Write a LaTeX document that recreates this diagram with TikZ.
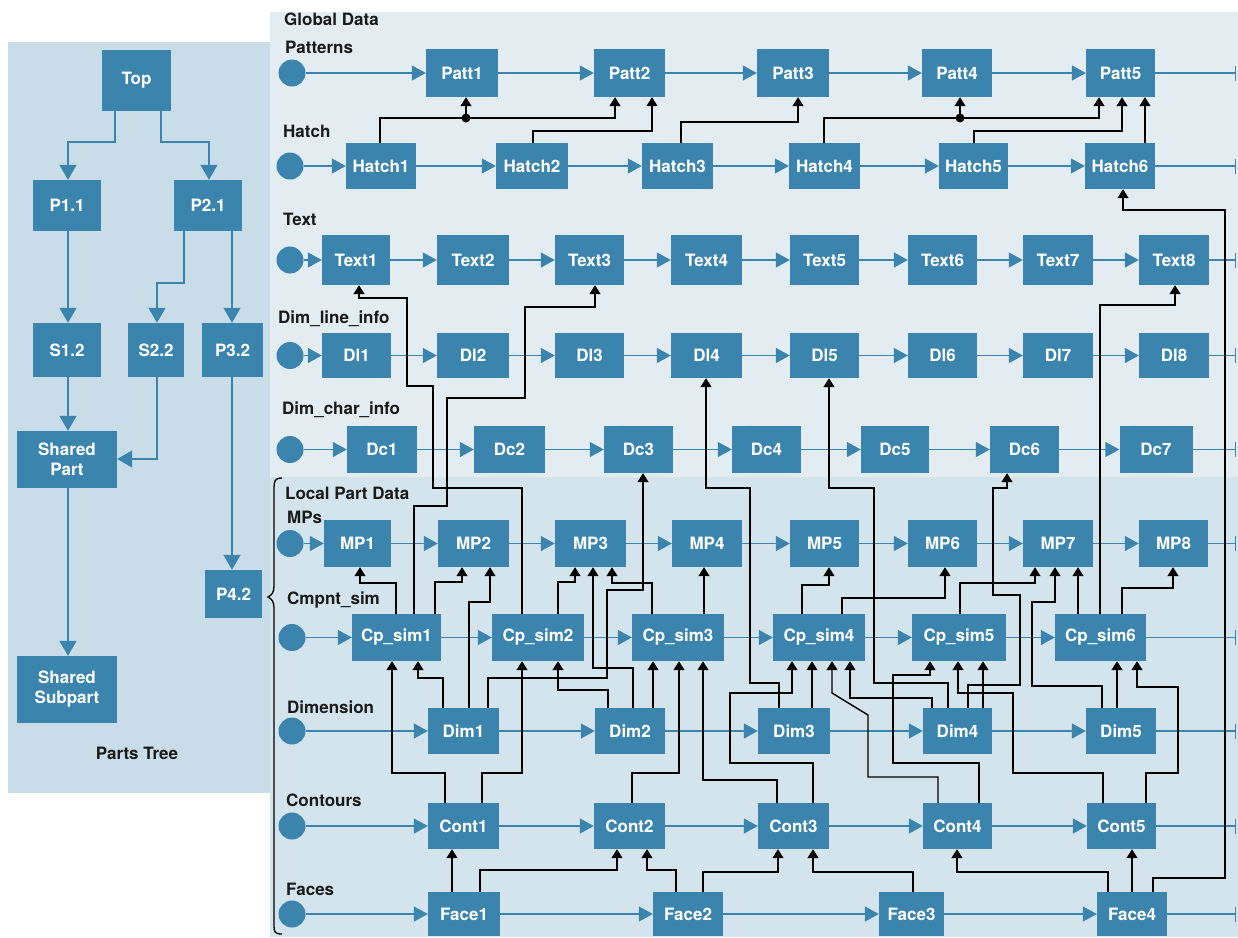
\documentclass[tikz,border=0pt]{standalone}
\usepackage{fontspec}
\setmainfont{TeX Gyre Heros}
\usetikzlibrary{arrows.meta}
\definecolor{boxblue}{HTML}{3B84AD}
\definecolor{leftbg}{HTML}{C8DDE8}
\definecolor{globbg}{HTML}{E3EDF1}
\definecolor{locbg}{HTML}{D4E4EC}
\definecolor{ink}{HTML}{1A1A1A}
\tikzset{
  box/.style={fill=boxblue, text=white, font=\bfseries\fontsize{17}{20}\selectfont, inner sep=0pt, align=center},
  lbl/.style={anchor=base west, inner sep=0pt, text=ink, font=\bfseries\fontsize{17}{20}\selectfont},
  src/.style={circle, fill=boxblue, minimum size=27pt, inner sep=0pt},
  flow/.style={draw=boxblue, line width=1.4pt, -{Triangle[width=15pt,length=14pt]}},
  tree/.style={draw=boxblue, line width=1.4pt, -{Triangle[width=17pt,length=15pt]}},
  flowend/.style={draw=boxblue, line width=1.4pt, -{Bar[width=15pt,line width=1.4pt]}},
  dep/.style={draw=black, line width=1.4pt, line join=miter, -{Triangle[width=11pt,length=9pt]}},
}
\begin{document}
\begin{tikzpicture}[x=1pt,y=-1pt]
\useasboundingbox (0,0) rectangle (1238,937);
\fill[white] (0,0) rectangle (1238,937);
\fill[leftbg] (8,42) rectangle (270,793);
\fill[globbg] (270,12) rectangle (1238,477);
\fill[locbg] (270,477) rectangle (1238,937);

% ---------------- Parts tree ----------------
\node[box,minimum width=69pt,minimum height=61pt] (top) at (136.5,80.5) {Top};
\node[box,minimum width=68pt,minimum height=51pt] (p11) at (67,205.5) {P1.1};
\node[box,minimum width=68pt,minimum height=51pt] (p21) at (208,205.5) {P2.1};
\node[box,minimum width=68pt,minimum height=54pt] (s12) at (67,350) {S1.2};
\node[box,minimum width=56pt,minimum height=54pt] (s22) at (156,350) {S2.2};
\node[box,minimum width=61pt,minimum height=54pt] (p32) at (232.5,350) {P3.2};
\node[box,minimum width=100pt,minimum height=57pt] (shp) at (67,459.5) {Shared\\Part};
\node[box,minimum width=57pt,minimum height=48pt] (p42) at (233.5,594) {P4.2};
\node[box,minimum width=100pt,minimum height=67pt] (shs) at (67,689.5) {Shared\\Subpart};
\node[anchor=base, inner sep=0pt, text=ink, font=\bfseries\fontsize{17}{20}\selectfont] (ptl) at (137,759) {Parts Tree};

\draw[tree] (115,0 |- top.south) -- (115,142) -- (68,142) -- (68,0 |- p11.north);
\draw[tree] (161,0 |- top.south) -- (161,142) -- (209,142) -- (209,0 |- p21.north);
\draw[tree] (68,0 |- p11.south) -- (68,0 |- s12.north);
\draw[tree] (184,0 |- p21.south) -- (184,283) -- (157,283) -- (157,0 |- s22.north);
\draw[tree] (232,0 |- p21.south) -- (232,0 |- p32.north);
\draw[tree] (68,0 |- s12.south) -- (68,0 |- shp.north);
\draw[tree] (157,0 |- s22.south) -- (157,459) -- (shp.east |- 0,459);
\draw[tree] (232,0 |- p32.south) -- (232,0 |- p42.north);
\draw[tree] (68,0 |- shp.south) -- (68,0 |- shs.north);

% brace
\draw[black, line width=1.3pt] (282,478) .. controls (275,478) and (274,481) .. (274,488) -- (274,586) .. controls (274,592) and (272,595) .. (268,597) .. controls (272,599) and (274,602) .. (274,608) -- (274,926) .. controls (274,932) and (275,934) .. (282,934);

% ---------------- Labels ----------------
\node[lbl] (lgd) at (284,25) {Global Data};
\node[lbl] (lpat) at (285,53) {Patterns};
\node[lbl] (lhat) at (283,137) {Hatch};
\node[lbl] (ltxt) at (283,225) {Text};
\node[lbl] (ldl) at (278,323) {Dim\_line\_info};
\node[lbl] (ldc) at (282,414) {Dim\_char\_info};
\node[lbl] (llpd) at (285,499) {Local Part Data};
\node[lbl] (lmp) at (287,523) {MPs};
\node[lbl] (lcp) at (287,604) {Cmpnt\_sim};
\node[lbl] (ldim) at (287,713) {Dimension};
\node[lbl] (lcont) at (286,806) {Contours};
\node[lbl] (lface) at (286,895) {Faces};

% ---------------- Patterns ----------------
\node[src] (patc) at (292,73) {};
\node[box,minimum width=72pt,minimum height=48pt] (patt1) at (462,73) {Patt1};
\node[box,minimum width=71pt,minimum height=48pt] (patt2) at (629.5,73) {Patt2};
\node[box,minimum width=72pt,minimum height=48pt] (patt3) at (793,73) {Patt3};
\node[box,minimum width=70pt,minimum height=48pt] (patt4) at (957,73) {Patt4};
\node[box,minimum width=69pt,minimum height=48pt] (patt5) at (1120.5,73) {Patt5};
\coordinate (pate) at (1236,73);
\draw[flow] (patc) -- (patt1);
\draw[flow] (patt1) -- (patt2);
\draw[flow] (patt2) -- (patt3);
\draw[flow] (patt3) -- (patt4);
\draw[flow] (patt4) -- (patt5);
\draw[flowend] (patt5) -- (pate);

% ---------------- Hatch ----------------
\node[src] (hatc) at (290,166) {};
\node[box,minimum width=70pt,minimum height=46pt] (hatch1) at (381,166) {Hatch1};
\node[box,minimum width=72pt,minimum height=46pt] (hatch2) at (532,166) {Hatch2};
\node[box,minimum width=71pt,minimum height=46pt] (hatch3) at (677.5,166) {Hatch3};
\node[box,minimum width=71pt,minimum height=46pt] (hatch4) at (824.5,166) {Hatch4};
\node[box,minimum width=69pt,minimum height=46pt] (hatch5) at (973.5,166) {Hatch5};
\node[box,minimum width=70pt,minimum height=46pt] (hatch6) at (1120,166) {Hatch6};
\coordinate (hate) at (1236,166);
\draw[flow] (hatc) -- (hatch1);
\draw[flow] (hatch1) -- (hatch2);
\draw[flow] (hatch2) -- (hatch3);
\draw[flow] (hatch3) -- (hatch4);
\draw[flow] (hatch4) -- (hatch5);
\draw[flow] (hatch5) -- (hatch6);
\draw[flowend] (hatch6) -- (hate);

% ---------------- Text ----------------
\node[src] (txtc) at (290,260) {};
\node[box,minimum width=68pt,minimum height=50pt] (text1) at (356,260) {Text1};
\node[box,minimum width=72pt,minimum height=50pt] (text2) at (473,260) {Text2};
\node[box,minimum width=69pt,minimum height=50pt] (text3) at (589.5,260) {Text3};
\node[box,minimum width=71pt,minimum height=50pt] (text4) at (706.5,260) {Text4};
\node[box,minimum width=69pt,minimum height=50pt] (text5) at (824.5,260) {Text5};
\node[box,minimum width=69pt,minimum height=50pt] (text6) at (942.5,260) {Text6};
\node[box,minimum width=70pt,minimum height=50pt] (text7) at (1058,260) {Text7};
\node[box,minimum width=70pt,minimum height=50pt] (text8) at (1174,260) {Text8};
\coordinate (txte) at (1236,260);
\draw[flow] (txtc) -- (text1);
\draw[flow] (text1) -- (text2);
\draw[flow] (text2) -- (text3);
\draw[flow] (text3) -- (text4);
\draw[flow] (text4) -- (text5);
\draw[flow] (text5) -- (text6);
\draw[flow] (text6) -- (text7);
\draw[flow] (text7) -- (text8);
\draw[flowend] (text8) -- (txte);

% ---------------- Dim_line_info ----------------
\node[src] (dlc) at (290,355.5) {};
\node[box,minimum width=69pt,minimum height=45pt] (dl1) at (356.5,355.5) {Dl1};
\node[box,minimum width=72pt,minimum height=45pt] (dl2) at (473,355.5) {Dl2};
\node[box,minimum width=69pt,minimum height=45pt] (dl3) at (589.5,355.5) {Dl3};
\node[box,minimum width=71pt,minimum height=45pt] (dl4) at (706.5,355.5) {Dl4};
\node[box,minimum width=69pt,minimum height=45pt] (dl5) at (824.5,355.5) {Dl5};
\node[box,minimum width=69pt,minimum height=45pt] (dl6) at (942.5,355.5) {Dl6};
\node[box,minimum width=70pt,minimum height=45pt] (dl7) at (1058,355.5) {Dl7};
\node[box,minimum width=70pt,minimum height=45pt] (dl8) at (1174,355.5) {Dl8};
\coordinate (dle) at (1236,355.5);
\draw[flow] (dlc) -- (dl1);
\draw[flow] (dl1) -- (dl2);
\draw[flow] (dl2) -- (dl3);
\draw[flow] (dl3) -- (dl4);
\draw[flow] (dl4) -- (dl5);
\draw[flow] (dl5) -- (dl6);
\draw[flow] (dl6) -- (dl7);
\draw[flow] (dl7) -- (dl8);
\draw[flowend] (dl8) -- (dle);

% ---------------- Dim_char_info ----------------
\node[src] (dcc) at (290,449.5) {};
\node[box,minimum width=70pt,minimum height=47pt] (dc1) at (382,449.5) {Dc1};
\node[box,minimum width=71pt,minimum height=47pt] (dc2) at (509.5,449.5) {Dc2};
\node[box,minimum width=69pt,minimum height=47pt] (dc3) at (638.5,449.5) {Dc3};
\node[box,minimum width=69pt,minimum height=47pt] (dc4) at (766.5,449.5) {Dc4};
\node[box,minimum width=68pt,minimum height=47pt] (dc5) at (895,449.5) {Dc5};
\node[box,minimum width=69pt,minimum height=47pt] (dc6) at (1024.5,449.5) {Dc6};
\node[box,minimum width=73pt,minimum height=47pt] (dc7) at (1156,449.5) {Dc7};
\coordinate (dce) at (1236,449.5);
\draw[flow] (dcc) -- (dc1);
\draw[flow] (dc1) -- (dc2);
\draw[flow] (dc2) -- (dc3);
\draw[flow] (dc3) -- (dc4);
\draw[flow] (dc4) -- (dc5);
\draw[flow] (dc5) -- (dc6);
\draw[flow] (dc6) -- (dc7);
\draw[flowend] (dc7) -- (dce);

% ---------------- MPs ----------------
\node[src] (mpc) at (290,543.5) {};
\node[box,minimum width=67pt,minimum height=47pt] (mp1) at (357.5,543.5) {MP1};
\node[box,minimum width=71pt,minimum height=47pt] (mp2) at (473.5,543.5) {MP2};
\node[box,minimum width=71pt,minimum height=47pt] (mp3) at (590.5,543.5) {MP3};
\node[box,minimum width=70pt,minimum height=47pt] (mp4) at (707,543.5) {MP4};
\node[box,minimum width=69pt,minimum height=47pt] (mp5) at (824.5,543.5) {MP5};
\node[box,minimum width=69pt,minimum height=47pt] (mp6) at (942.5,543.5) {MP6};
\node[box,minimum width=70pt,minimum height=47pt] (mp7) at (1058,543.5) {MP7};
\node[box,minimum width=69pt,minimum height=47pt] (mp8) at (1173.5,543.5) {MP8};
\coordinate (mpe) at (1236,543.5);
\draw[flow] (mpc) -- (mp1);
\draw[flow] (mp1) -- (mp2);
\draw[flow] (mp2) -- (mp3);
\draw[flow] (mp3) -- (mp4);
\draw[flow] (mp4) -- (mp5);
\draw[flow] (mp5) -- (mp6);
\draw[flow] (mp6) -- (mp7);
\draw[flow] (mp7) -- (mp8);
\draw[flowend] (mp8) -- (mpe);

% ---------------- Cmpnt_sim ----------------
\node[src] (cpc) at (292,637.5) {};
\node[box,minimum width=89pt,minimum height=47pt] (cp1) at (396.5,637.5) {Cp\_sim1};
\node[box,minimum width=92pt,minimum height=47pt] (cp2) at (538,637.5) {Cp\_sim2};
\node[box,minimum width=92pt,minimum height=47pt] (cp3) at (678,637.5) {Cp\_sim3};
\node[box,minimum width=92pt,minimum height=47pt] (cp4) at (819,637.5) {Cp\_sim4};
\node[box,minimum width=94pt,minimum height=47pt] (cp5) at (959,637.5) {Cp\_sim5};
\node[box,minimum width=91pt,minimum height=47pt] (cp6) at (1100.5,637.5) {Cp\_sim6};
\coordinate (cpe) at (1236,637.5);
\draw[flow] (cpc) -- (cp1);
\draw[flow] (cp1) -- (cp2);
\draw[flow] (cp2) -- (cp3);
\draw[flow] (cp3) -- (cp4);
\draw[flow] (cp4) -- (cp5);
\draw[flow] (cp5) -- (cp6);
\draw[flowend] (cp6) -- (cpe);

% ---------------- Dimension ----------------
\node[src] (dimc) at (292,731) {};
\node[box,minimum width=71pt,minimum height=46pt] (dim1) at (463.5,731) {Dim1};
\node[box,minimum width=70pt,minimum height=46pt] (dim2) at (630,731) {Dim2};
\node[box,minimum width=72pt,minimum height=46pt] (dim3) at (794,731) {Dim3};
\node[box,minimum width=69pt,minimum height=46pt] (dim4) at (957.5,731) {Dim4};
\node[box,minimum width=70pt,minimum height=46pt] (dim5) at (1121,731) {Dim5};
\coordinate (dime) at (1236,731);
\draw[flow] (dimc) -- (dim1);
\draw[flow] (dim1) -- (dim2);
\draw[flow] (dim2) -- (dim3);
\draw[flow] (dim3) -- (dim4);
\draw[flow] (dim4) -- (dim5);
\draw[flowend] (dim5) -- (dime);

% ---------------- Contours ----------------
\node[src] (contc) at (292,826) {};
\node[box,minimum width=71pt,minimum height=46pt] (cont1) at (463.5,826) {Cont1};
\node[box,minimum width=71pt,minimum height=46pt] (cont2) at (629.5,826) {Cont2};
\node[box,minimum width=71pt,minimum height=46pt] (cont3) at (793.5,826) {Cont3};
\node[box,minimum width=69pt,minimum height=46pt] (cont4) at (957.5,826) {Cont4};
\node[box,minimum width=69pt,minimum height=46pt] (cont5) at (1121.5,826) {Cont5};
\coordinate (conte) at (1236,826);
\draw[flow] (contc) -- (cont1);
\draw[flow] (cont1) -- (cont2);
\draw[flow] (cont2) -- (cont3);
\draw[flow] (cont3) -- (cont4);
\draw[flow] (cont4) -- (cont5);
\draw[flowend] (cont5) -- (conte);

% ---------------- Faces ----------------
\node[src] (facec) at (292,914) {};
\node[box,minimum width=72pt,minimum height=44pt] (face1) at (464,914) {Face1};
\node[box,minimum width=70pt,minimum height=44pt] (face2) at (688,914) {Face2};
\node[box,minimum width=65pt,minimum height=44pt] (face3) at (911.5,914) {Face3};
\node[box,minimum width=70pt,minimum height=44pt] (face4) at (1132,914) {Face4};
\coordinate (facee) at (1236,914);
\draw[flow] (facec) -- (face1);
\draw[flow] (face1) -- (face2);
\draw[flow] (face2) -- (face3);
\draw[flow] (face3) -- (face4);
\draw[flowend] (face4) -- (facee);

% ================= dependency connectors =================
% Hatch -> Patterns
\coordinate (j1) at (466,118);
\coordinate (j2) at (960,118);
\draw[dep] (380,0 |- hatch1.north) -- (380,118) -- (615,118) -- (615,0 |- patt2.south);
\draw[dep] (j1) -- (466,0 |- patt1.south);
\fill (j1) circle (4.5pt);
\draw[dep] (533,0 |- hatch2.north) -- (533,131) -- (652,131) -- (652,0 |- patt2.south);
\draw[dep] (681,0 |- hatch3.north) -- (681,122) -- (798,122) -- (798,0 |- patt3.south);
\draw[dep] (824,0 |- hatch4.north) -- (824,118) -- (1099,118) -- (1099,0 |- patt5.south);
\draw[dep] (j2) -- (960,0 |- patt4.south);
\fill (j2) circle (4.5pt);
\draw[dep] (974,0 |- hatch5.north) -- (974,131) -- (1122,131) -- (1122,0 |- patt5.south);
\draw[dep] (1145,0 |- hatch6.north) -- (1145,0 |- patt5.south);

% into Text / Hatch6
\draw[dep] (522,0 |- cp2.north) -- (522,488) -- (433,488) -- (433,386) -- (407,386) -- (407,298) -- (359,298) -- (359,0 |- text1.south);
\draw[dep] (414,0 |- cp1.north) -- (414,506) -- (447,506) -- (447,398) -- (525,398) -- (525,307) -- (595,307) -- (595,0 |- text3.south);
\draw[dep] (1100,0 |- cp6.north) -- (1100,305) -- (1175,305) -- (1175,0 |- text8.south);
\draw[dep] (1153,0 |- face4.north) -- (1153,878) -- (1225,878) -- (1225,210) -- (1123,210) -- (1123,0 |- hatch6.south);

% into Dl
\draw[dep] (779,0 |- dim3.north) -- (779,683) -- (750,683) -- (750,488) -- (706,488) -- (706,0 |- dl4.south);
\draw[dep] (948,0 |- dim4.north) -- (948,683) -- (874,683) -- (874,488) -- (829,488) -- (829,0 |- dl5.south);

% into Dc
\draw[dep] (488,0 |- dim1.north) -- (488,678) -- (607,678) -- (607,590) -- (643,590) -- (643,0 |- dc3.south);
\draw[dep] (968,0 |- dim4.north) -- (968,685) -- (1020,685) -- (1020,595) -- (993,595) -- (993,488) -- (1007,488) -- (1007,0 |- dc6.south);

% into MPs
\draw[dep] (396,0 |- cp1.north) -- (396,583) -- (360,583) -- (360,0 |- mp1.south);
\draw[dep] (435,0 |- cp1.north) -- (435,582) -- (462,582) -- (462,0 |- mp2.south);
\draw[dep] (469,0 |- dim1.north) -- (469,602) -- (490,602) -- (490,0 |- mp2.south);
\draw[dep] (558,0 |- cp2.north) -- (558,582) -- (575,582) -- (575,0 |- mp3.south);
\draw[dep] (633,0 |- dim2.north) -- (633,668) -- (593,668) -- (593,0 |- mp3.south);
\draw[dep] (652,0 |- cp3.north) -- (652,583) -- (612,583) -- (612,0 |- mp3.south);
\draw[dep] (704,0 |- cp3.north) -- (704,0 |- mp4.south);
\draw[dep] (802,0 |- cp4.north) -- (802,585) -- (829,585) -- (829,0 |- mp5.south);
\draw[dep] (842,0 |- cp4.north) -- (842,598) -- (945,598) -- (945,0 |- mp6.south);
\draw[dep] (960,0 |- cp5.north) -- (960,583) -- (1035,583) -- (1035,0 |- mp7.south);
\draw[dep] (1102,0 |- dim5.north) -- (1102,686) -- (1032,686) -- (1032,602) -- (1055,602) -- (1055,0 |- mp7.south);
\draw[dep] (1078,0 |- cp6.north) -- (1078,0 |- mp7.south);
\draw[dep] (1122,0 |- cp6.north) -- (1122,588) -- (1173,588) -- (1173,0 |- mp8.south);

% into Cmpnt_sim
\draw[dep] (445,0 |- cont1.north) -- (445,773) -- (392,773) -- (392,0 |- cp1.south);
\draw[dep] (443,0 |- dim1.north) -- (443,678) -- (418,678) -- (418,0 |- cp1.south);
\draw[dep] (482,0 |- cont1.north) -- (482,773) -- (522,773) -- (522,0 |- cp2.south);
\draw[dep] (608,0 |- dim2.north) -- (608,690) -- (558,690) -- (558,0 |- cp2.south);
\draw[dep] (653,0 |- dim2.north) -- (653,0 |- cp3.south);
\draw[dep] (632,0 |- cont2.north) -- (632,773) -- (679,773) -- (679,0 |- cp3.south);
\draw[dep] (777,0 |- cont3.north) -- (777,780) -- (703,780) -- (703,0 |- cp3.south);
\draw[dep] (813,0 |- cont3.north) -- (813,763) -- (730,763) -- (730,693) -- (792,693) -- (792,0 |- cp4.south);
\draw[dep] (812,0 |- dim3.north) -- (812,0 |- cp4.south);
\draw[dep] (938,0 |- cont4.north) -- (938,777) -- (868,777) -- (868,715) -- (832,693) -- (832,0 |- cp4.south);
\draw[dep] (932,0 |- dim4.north) -- (932,698) -- (850,698) -- (850,0 |- cp4.south);
\draw[dep] (979,0 |- cont4.north) -- (979,763) -- (893,763) -- (893,675) -- (930,675) -- (930,0 |- cp5.south);
\draw[dep] (1103,0 |- cont5.north) -- (1103,773) -- (1013,773) -- (1013,693) -- (958,693) -- (958,0 |- cp5.south);
\draw[dep] (983,0 |- dim4.north) -- (983,0 |- cp5.south);
\draw[dep] (1117,0 |- dim5.north) -- (1117,0 |- cp6.south);
\draw[dep] (1146,0 |- cont5.north) -- (1146,773) -- (1178,773) -- (1178,687) -- (1137,687) -- (1137,0 |- cp6.south);

% into Contours
\draw[dep] (452,0 |- face1.north) -- (452,0 |- cont1.south);
\draw[dep] (480,0 |- face1.north) -- (480,870) -- (617,870) -- (617,0 |- cont2.south);
\draw[dep] (676,0 |- face2.north) -- (676,870) -- (647,870) -- (647,0 |- cont2.south);
\draw[dep] (703,0 |- face2.north) -- (703,872) -- (778,872) -- (778,0 |- cont3.south);
\draw[dep] (913,0 |- face3.north) -- (913,872) -- (813,872) -- (813,0 |- cont3.south);
\draw[dep] (1108,0 |- face4.north) -- (1108,872) -- (957,872) -- (957,0 |- cont4.south);
\draw[dep] (1132,0 |- face4.north) -- (1132,0 |- cont5.south);
\end{tikzpicture}
\end{document}
